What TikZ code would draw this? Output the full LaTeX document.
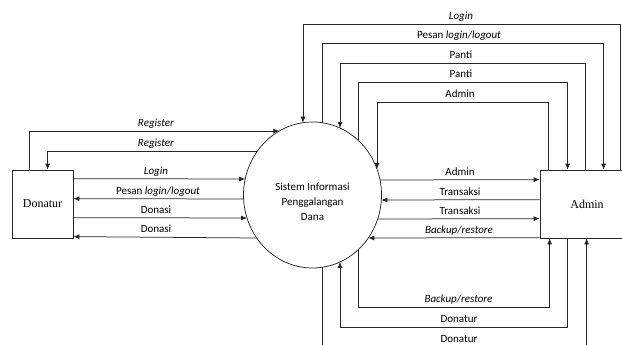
\documentclass[tikz,border=0pt]{standalone}
\usepackage{fontspec}
\setmainfont{Carlito}
\newfontfamily\serifbox{Liberation Serif}
\usetikzlibrary{shapes.geometric,arrows.meta,calc}
\begin{document}
\begin{tikzpicture}[x=1pt,y=-1pt,
  declare function={ex(\d)=69*sqrt(1-(\d/73)^2); ey(\d)=73*sqrt(1-(\d/69)^2);},
  line/.style={draw=black!85, line width=0.75pt},
  flow/.style={line, -{Latex[length=6pt,width=5pt]}},
  lab/.style={anchor=base, inner sep=0pt, font=\fontsize{11}{13}\selectfont},
  ent/.style={line, rectangle, inner sep=0pt, minimum height=68pt, font=\serifbox\fontsize{12}{14}\selectfont}]
\useasboundingbox (0,0) rectangle (622,345);

% entities and process
\node[ent, minimum width=61pt] (don) at (42.5,204) {Donatur};
\node[ent, minimum width=94pt] (adm) at (587,204) {Admin};
\node[line, ellipse, minimum width=138pt, minimum height=146pt, inner sep=0pt, align=center,
      font=\fontsize{11}{15}\selectfont] (sys) at (312.5,195)
      {\rule{0pt}{22pt}Sistem Informasi\\Penggalangan\\Dana};

% ports on the process
\coordinate (sL1) at ($(sys.center)+({-ex(-64)},-64)$);
\coordinate (sL2) at ($(sys.center)+({-ex(-44)},-44)$);
\coordinate (sL3) at ($(sys.center)+({-ex(-16)},-16)$);
\coordinate (sL4) at ($(sys.center)+({-ex(4)},4)$);
\coordinate (sL5) at ($(sys.center)+({-ex(23)},23)$);
\coordinate (sL6) at ($(sys.center)+({-ex(43)},43)$);
\coordinate (sR1) at ($(sys.center)+({ex(-15)},-15)$);
\coordinate (sR2) at ($(sys.center)+({ex(5)},5)$);
\coordinate (sR3) at ($(sys.center)+({ex(24)},24)$);
\coordinate (sR4) at ($(sys.center)+({ex(43)},43)$);
\coordinate (sT1) at ($(sys.center)+(-9.5,{-ey(-9.5)})$);
\coordinate (sT2) at ($(sys.center)+(9.5,{-ey(9.5)})$);
\coordinate (sT3) at ($(sys.center)+(27.5,{-ey(27.5)})$);
\coordinate (sT4) at ($(sys.center)+(45.5,{-ey(45.5)})$);
\coordinate (sT5) at ($(sys.center)+(64.5,{-ey(64.5)})$);
\coordinate (sB1) at ($(sys.center)+(45.5,{ey(45.5)})$);
\coordinate (sB2) at ($(sys.center)+(27.5,{ey(27.5)})$);
\coordinate (sB3) at ($(sys.center)+(9.5,{ey(9.5)})$);

% ports on Donatur
\coordinate (dN1) at ($(don.north west)+(18,0)$);
\coordinate (dN2) at ($(don.north west)+(36,0)$);
\coordinate (dE1) at ($(don.north east)+(0,9)$);
\coordinate (dE2) at ($(don.north east)+(0,29)$);
\coordinate (dE3) at ($(don.north east)+(0,48)$);
\coordinate (dE4) at ($(don.north east)+(0,67)$);

% ports on Admin
\coordinate (aW1) at ($(adm.north west)+(0,10)$);
\coordinate (aW2) at ($(adm.north west)+(0,30)$);
\coordinate (aW3) at ($(adm.north west)+(0,49)$);
\coordinate (aW4) at ($(adm.north west)+(0,68)$);
\coordinate (aN1) at ($(adm.north west)+(81,0)$);
\coordinate (aN2) at ($(adm.north west)+(64,0)$);
\coordinate (aN3) at ($(adm.north west)+(46,0)$);
\coordinate (aN4) at ($(adm.north west)+(28,0)$);
\coordinate (aN5) at ($(adm.north west)+(9,0)$);
\coordinate (aS1) at ($(adm.south west)+(10,0)$);
\coordinate (aS2) at ($(adm.south west)+(28,0)$);
\coordinate (aS3) at ($(adm.south west)+(47,0)$);

% Donatur <-> process
\draw[flow] (dN1) |- (sL1);
\draw[flow] (sL2) -| (dN2);
\draw[flow] (dE1) -- (sL3);
\draw[flow] (sL4) -- (dE2);
\draw[flow] (dE3) -- (sL5);
\draw[flow] (sL6) -- (dE4);
\node[lab] (l1) at (156,126.5) {\textit{Register}};
\node[lab] (l2) at (156,146.5) {\textit{Register}};
\node[lab] (l3) at (156,174.5) {\textit{Login}};
\node[lab] (l4) at (158,194.5) {Pesan \textit{login/logout}};
\node[lab] (l5) at (156,213.5) {Donasi};
\node[lab] (l6) at (156,232.5) {Donasi};

% process <-> Admin (side)
\draw[flow] (sR1) -- (aW1);
\draw[flow] (aW2) -- (sR2);
\draw[flow] (sR3) -- (aW3);
\draw[flow] (aW4) -- (sR4);
\node[lab] (r1) at (460,175.5) {Admin};
\node[lab] (r2) at (460,195.5) {Transaksi};
\node[lab] (r3) at (460,214.5) {Transaksi};
\node[lab] (r4) at (459,233.5) {\textit{Backup/restore}};

% process <-> Admin (top loops)
\draw[flow] (aN1) |- (sT1 |- 0,24) -- (sT1);
\draw[flow] (sT2) |- (aN2 |- 0,43) -- (aN2);
\draw[flow] (aN3) |- (sT3 |- 0,63) -- (sT3);
\draw[flow] (sT4) |- (aN4 |- 0,82) -- (aN4);
\draw[flow] (aN5) |- (sT5 |- 0,102) -- (sT5);
\node[lab] (u1) at (461,19.5) {\textit{Login}};
\node[lab] (u2) at (459,38.5) {Pesan \textit{login/logout}};
\node[lab] (u3) at (461,58.5) {Panti};
\node[lab] (u4) at (461,77.5) {Panti};
\node[lab] (u5) at (460,97.5) {Admin};

% process <-> Admin (bottom loops)
\draw[flow] (sB1) |- (aS1 |- 0,307) -- (aS1);
\draw[flow] (aS2) |- (sB2 |- 0,327) -- (sB2);
\draw[flow] (sB3) |- (aS3 |- 0,347) -- (aS3);
\node[lab] (b1) at (458.5,302.5) {\textit{Backup/restore}};
\node[lab] (b2) at (459,322.5) {Donatur};
\node[lab] (b3) at (459,342.5) {Donatur};
\end{tikzpicture}
\end{document}
